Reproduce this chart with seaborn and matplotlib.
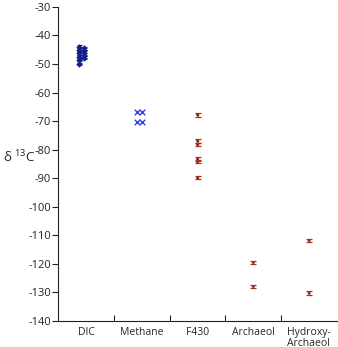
import numpy as np
import pandas as pd
import seaborn as sns
import matplotlib.pyplot as plt

categories = ["DIC", "Methane", "F430", "Archaeol", "Hydroxy-\nArchaeol"]

# DIC (two replicate columns)
dic_a = [-44.0, -45.0, -46.2, -47.4, -48.6, -50.0]
dic_b = [-44.5, -45.6, -46.7, -47.8]
dic_err = 0.5

# Methane (two x-markers per row)
methane = [-66.8, -70.4]

# compound-specific values with error bars
f430 = [-67.8, -77.0, -78.2, -83.3, -84.2, -89.8]
archaeol = [-119.5, -127.9]
hydroxy = [-111.8, -130.2]
comp_err = 0.6

rows = []
for v in dic_a:
    rows.append(("DIC", 0, v, "dic"))
for v in dic_b:
    rows.append(("DIC", 1, v, "dic"))
for v in methane:
    rows.append(("Methane", 0, v, "ch4"))
    rows.append(("Methane", 1, v, "ch4"))
for v in f430:
    rows.append(("F430", 0, v, "lip"))
for v in archaeol:
    rows.append(("Archaeol", 0, v, "lip"))
for v in hydroxy:
    rows.append(("Hydroxy-\nArchaeol", 0, v, "lip"))
df = pd.DataFrame(rows, columns=["cat", "rep", "d13C", "kind"])

# horizontal placement within a category
offsets = {"dic": (-0.12, -0.03), "ch4": (-0.09, 0.0), "lip": (0.0, 0.0)}
df["x"] = [categories.index(c) + offsets[k][r] for c, r, k in zip(df.cat, df.rep, df.kind)]

sns.set_style("ticks")
plt.rcParams["font.family"] = ["Open Sans", "DejaVu Sans"]
plt.rcParams["axes.unicode_minus"] = False

fig = plt.figure(figsize=(3.38, 3.47), dpi=100)
ax = fig.add_axes([0.172, 0.075, 0.825, 0.905])

navy = "#14208a"
blue = "#2f47d6"
red = "#a8321e"

d = df[df.kind == "dic"]
ax.errorbar(d.x, d.d13C, yerr=dic_err, fmt="none", ecolor=navy, elinewidth=0.8, capsize=1.8, capthick=0.8)
sns.scatterplot(data=d, x="x", y="d13C", marker="D", s=9, color=navy, edgecolor=navy, ax=ax)

m = df[df.kind == "ch4"]
sns.scatterplot(data=m, x="x", y="d13C", marker="x", s=16, color=blue, linewidth=1.0, ax=ax)

l = df[df.kind == "lip"]
ax.errorbar(l.x, l.d13C, yerr=comp_err, fmt="none", ecolor=red, elinewidth=0.9, capsize=2.2, capthick=0.9)
sns.scatterplot(data=l, x="x", y="d13C", marker="o", s=4, color="#6a1a10", edgecolor="none", ax=ax)

ax.set_xlim(-0.5, len(categories) - 0.5)
ax.set_ylim(-140, -30)
ax.set_yticks(np.arange(-140, -29, 10))
ax.tick_params(axis="y", direction="out", length=4, width=0.8, labelsize=8, pad=1, colors="#222222")

ax.set_xticks(np.arange(0.5, len(categories) - 0.5, 1))
ax.set_xticklabels([])
ax.tick_params(axis="x", which="major", direction="in", length=4, width=0.8)
ax.set_xticks(np.arange(len(categories)), minor=True)
ax.set_xticklabels(categories, minor=True, multialignment="left", linespacing=1.0)
ax.tick_params(axis="x", which="minor", length=0, labelsize=7.5, pad=4)

for s in ["top", "right"]:
    ax.spines[s].set_visible(False)
for s in ["left", "bottom"]:
    ax.spines[s].set_linewidth(0.8)
    ax.spines[s].set_color("#222222")

ax.set_xlabel("")
ax.set_ylabel("")
fig.text(0.058, 0.548, r"δ $^{\mathregular{13}}$C", fontsize=9.5, ha="center", va="center")

fig.savefig("out.png", dpi=100)
